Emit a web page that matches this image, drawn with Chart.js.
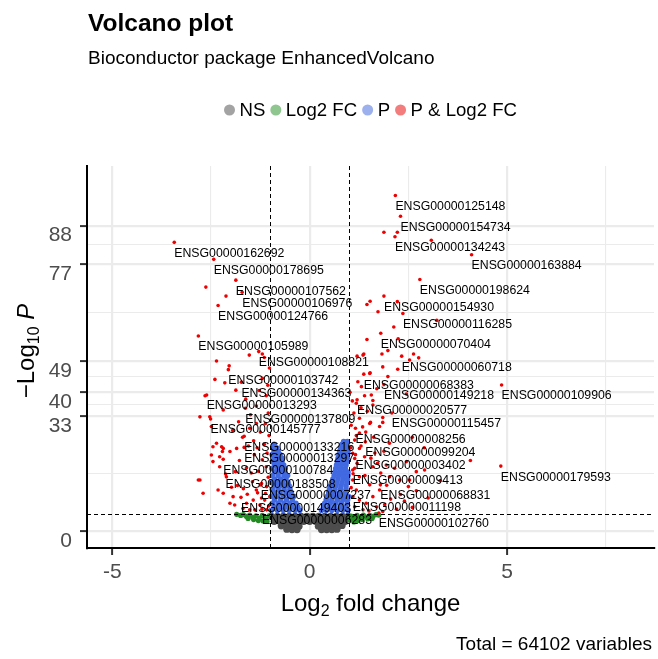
<!DOCTYPE html>
<html>
<head>
<meta charset="utf-8">
<script src="https://cdn.jsdelivr.net/npm/chart.js@4.4.0/dist/chart.umd.min.js"></script>
<style>
  html, body { margin: 0; padding: 0; background: #fff; }
  #wrap { width: 658px; height: 659px; }
</style>
</head>
<body>
<div id="wrap"><canvas id="volcano" width="658" height="659"></canvas></div>
<script>
// axis ticks
const xTicks = [-5, 0, 5];
const xMinor = [-2.5, 2.5, 7.5];
const yTicks = [0, 33, 40, 49, 77, 88];
const yMinor = [16.5, 36.5, 44.5, 63, 82.5];

// cutoffs (log2 FC, -log10 P)
const fcCutoff = 1;
const pCutoff = 5;

// labelled genes (all in "P & Log2 FC")
const geneNames = [
  "ENSG00000162692", "ENSG00000178695", "ENSG00000107562", "ENSG00000106976", "ENSG00000124766",
  "ENSG00000105989", "ENSG00000108821", "ENSG00000103742", "ENSG00000134363", "ENSG00000013293",
  "ENSG00000137809", "ENSG00000145777", "ENSG00000133216", "ENSG00000013297", "ENSG00000100784",
  "ENSG00000183508", "ENSG00000007237", "ENSG00000149403", "ENSG00000006283",
  "ENSG00000125148", "ENSG00000154734", "ENSG00000134243", "ENSG00000163884", "ENSG00000198624",
  "ENSG00000154930", "ENSG00000116285", "ENSG00000070404", "ENSG00000060718", "ENSG00000068383",
  "ENSG00000149218", "ENSG00000109906", "ENSG00000020577", "ENSG00000115457", "ENSG00000008256",
  "ENSG00000099204", "ENSG00000003402", "ENSG00000179593", "ENSG00000009413", "ENSG00000068831",
  "ENSG00000011198", "ENSG00000102760"
];
const geneLog2FC = [
  -3.43, -2.43, -1.87, -1.71, -2.32, -2.82, -1.29, -2.06, -1.73, -2.61,
  -1.63, -2.51, -1.66, -1.66, -2.19, -2.13, -1.24, -1.74, -1.21,
  2.17, 2.30, 2.16, 4.10, 2.79, 1.88, 2.36, 1.80, 2.33, 1.37,
  1.88, 4.86, 1.20, 2.08, 1.16, 1.41, 1.16, 4.84, 1.09, 1.79,
  1.09, 1.75
];
const geneLogP = [
  83.2, 78.3, 72.3, 68.8, 65.0, 56.2, 51.7, 46.5, 42.9, 39.2,
  35.4, 32.3, 27.3, 24.1, 20.7, 16.4, 13.3, 9.7, 6.3,
  96.7, 90.7, 84.8, 79.6, 72.5, 67.7, 62.7, 57.0, 50.4, 45.2,
  42.2, 42.1, 37.8, 34.0, 29.6, 25.7, 22.0, 18.7, 17.6, 13.3,
  9.8, 5.2
];

// other significant points: [log2FC, -log10 P]
const bothPoints = [
  [-2.63, 70.3], [-2.12, 67.7], [1.45, 65.3], [1.53, 66.2], [1.73, 63.2], [1.45, 55.2],
  [-1.53, 50.7], [-1.20, 51.0], [1.20, 50.4], [1.37, 51.0], [1.88, 86.1], [2.22, 86.1],
  [3.08, 83.8], [2.22, 66.1], [2.13, 58.8], [3.22, 60.7], [2.24, 55.4], [1.98, 52.0],
  [1.83, 51.0], [2.63, 51.0], [2.76, 49.9], [2.53, 49.3], [1.85, 47.3], [2.23, 46.6],
  [1.53, 45.6], [-2.36, 49.0], [-2.04, 47.6], [-2.40, 43.7], [-2.15, 42.7], [-1.87, 40.6],
  [-2.78, 32.9], [-2.19, 34.9], [-2.45, 24.3], [-2.19, 23.8], [-2.28, 21.4], [-2.78, 14.7],
  [-2.70, 10.9], [1.35, 50.7], [1.52, 45.4], [1.31, 41.6], [1.18, 36.8], [1.26, 32.5],
  [4.07, 20.3], [1.39, 39.0], [1.60, 37.6], [1.85, 32.7], [1.85, 31.3], [1.54, 31.3],
  [-2.65, 39.0], [-2.53, 32.9], [-2.49, 30.1], [-1.35, 31.0], [-1.52, 29.6], [-2.36, 25.3],
  [-2.23, 24.3], [-2.21, 22.9], [-2.49, 21.9], [-2.02, 22.9], [-1.85, 23.8], [-2.45, 20.0],
  [-2.28, 18.5], [-2.82, 14.7], [-2.11, 15.6], [-2.32, 11.8], [-2.19, 10.9], [-1.94, 9.9],
  [-2.02, 8.0], [-1.90, 7.5], [-1.60, 8.0], [-1.43, 8.9], [-1.26, 7.5], [-1.39, 6.1],
  [-1.09, 6.1], [-1.35, 11.8], [-1.22, 13.7], [-1.09, 12.8], [-1.01, 9.9], [-1.14, 8.9],
  [-1.52, 6.1], [-1.69, 6.5],
  [1.56, 39.2], [1.60, 36.3], [1.52, 31.0], [1.77, 30.1], [1.26, 28.2], [1.14, 26.2],
  [2.02, 25.3], [1.26, 23.8], [1.09, 22.4], [1.39, 21.4], [1.60, 18.5], [1.94, 19.0],
  [2.15, 18.1], [2.45, 20.0], [2.70, 17.1], [2.91, 17.6], [2.02, 15.6], [2.28, 14.7],
  [2.53, 14.7], [1.26, 15.6], [1.52, 13.3], [1.18, 11.8], [1.77, 11.8], [1.60, 9.9],
  [1.26, 8.9], [1.43, 8.0], [1.14, 7.0], [1.69, 7.0], [1.35, 6.1], [1.09, 9.9],
  [1.09, 14.7], [1.14, 18.1], [1.14, 20.9],
  [-1.05, 15.5], [-1.10, 18.5], [-1.20, 20.5], [-1.08, 22.5], [-1.30, 17.2], [-1.15, 25.0],
  [-1.03, 27.5], [-1.32, 11.0], [-1.22, 9.5], [-1.04, 7.2], [-1.12, 10.8], [-1.45, 14.2],
  [-1.58, 10.6], [-1.68, 12.2], [-1.83, 13.1], [-1.98, 12.6], [-1.48, 16.7], [-1.60, 18.2],
  [-1.88, 17.1], [-1.78, 20.3], [-1.40, 22.0], [-1.25, 28.5], [-1.12, 31.0], [-1.05, 34.0],
  [-1.35, 36.0], [-1.10, 39.0], [-1.20, 44.0], [-1.02, 47.0], [-1.42, 26.0], [-1.55, 24.5],
  [-1.70, 27.0], [-1.95, 29.0], [-1.80, 31.5],
  [1.05, 12.5], [1.10, 16.5], [1.20, 19.5], [1.30, 24.5], [1.05, 30.5], [1.12, 34.0],
  [1.02, 40.0], [1.22, 43.0], [1.42, 28.5], [1.65, 22.5], [1.80, 16.7], [1.95, 13.2],
  [2.30, 10.5], [2.50, 12.8], [2.70, 11.6], [2.40, 8.6], [2.05, 9.2], [1.90, 7.6],
  [1.50, 5.8], [1.85, 5.6], [2.20, 6.3], [2.60, 6.8], [3.00, 9.5], [1.30, 35.5],
  [1.70, 41.0], [1.98, 44.5], [2.45, 39.5], [2.60, 27.0], [2.90, 24.0], [3.30, 14.5],
  [1.04, 24.0], [1.18, 27.5], [1.34, 30.0], [1.46, 34.5], [1.08, 37.5], [1.62, 27.0],
  [1.72, 19.5], [1.40, 16.0], [1.55, 21.0], [1.88, 23.0], [-1.06, 42.0], [-1.28, 40.5],
  [-1.50, 33.5], [-1.15, 50.0], [-1.62, 38.0], [-1.33, 24.0]
];

// P only (|log2FC| < 1)
const pPoints = [
  [-0.97, 6], [-0.82, 6], [-0.67, 6], [-0.52, 6], [-0.37, 6], [-0.25, 6],
  [-0.90, 7], [-0.75, 7], [-0.60, 7], [-0.45, 7], [-0.30, 7],
  [-0.95, 8], [-0.80, 8], [-0.65, 8], [-0.50, 8], [-0.35, 8],
  [-0.89, 9], [-0.74, 9], [-0.59, 9], [-0.44, 9],
  [-0.97, 10], [-0.82, 10], [-0.67, 10], [-0.52, 10], [-0.40, 10],
  [-0.90, 11], [-0.75, 11], [-0.60, 11], [-0.47, 11],
  [-0.95, 12], [-0.80, 12], [-0.65, 12], [-0.50, 12],
  [-0.90, 13], [-0.76, 13], [-0.62, 13], [-0.52, 13],
  [-0.97, 14], [-0.83, 14], [-0.69, 14], [-0.55, 14],
  [-0.89, 15], [-0.74, 15], [-0.60, 15],
  [-0.95, 16], [-0.80, 16], [-0.65, 16], [-0.56, 16],
  [-0.89, 17], [-0.75, 17], [-0.63, 17],
  [-0.96, 18], [-0.82, 18], [-0.68, 18], [-0.62, 18],
  [-0.89, 19], [-0.76, 19], [-0.66, 19],
  [-0.95, 20], [-0.82, 20], [-0.70, 20],
  [-0.89, 21], [-0.78, 21], [-0.70, 21],
  [-0.95, 22], [-0.84, 22], [-0.75, 22],
  [-0.90, 23], [-0.80, 23],
  [-0.93, 24], [-0.84, 24], [-0.90, 25],
  [0.30, 6], [0.42, 6], [0.56, 6], [0.70, 6], [0.84, 6], [0.97, 6],
  [0.35, 7], [0.49, 7], [0.63, 7], [0.77, 7], [0.91, 7],
  [0.38, 8], [0.52, 8], [0.66, 8], [0.80, 8], [0.95, 8],
  [0.42, 9], [0.56, 9], [0.70, 9], [0.84, 9], [0.96, 9],
  [0.45, 10], [0.59, 10], [0.73, 10], [0.87, 10], [0.98, 10],
  [0.48, 11], [0.62, 11], [0.76, 11], [0.90, 11],
  [0.50, 12], [0.64, 12], [0.78, 12], [0.92, 12],
  [0.53, 13], [0.66, 13], [0.79, 13], [0.92, 13],
  [0.56, 14], [0.69, 14], [0.82, 14], [0.95, 14],
  [0.59, 15], [0.72, 15], [0.85, 15], [0.96, 15],
  [0.62, 16], [0.74, 16], [0.86, 16], [0.97, 16],
  [0.64, 17], [0.76, 17], [0.88, 17], [0.97, 17],
  [0.66, 18], [0.78, 18], [0.90, 18],
  [0.68, 19], [0.80, 19], [0.92, 19],
  [0.70, 20], [0.82, 20], [0.94, 20],
  [0.72, 21], [0.84, 21], [0.95, 21],
  [0.74, 22], [0.85, 22], [0.96, 22],
  [0.76, 23], [0.87, 23], [0.97, 23],
  [0.78, 24], [0.88, 24], [0.97, 24],
  [0.82, 25], [0.92, 25], [0.86, 25.8], [0.95, 25.8]
];

// Log2 FC only (-log10 P < 5)
const fcPoints = [
  [-1.03, 4.4], [-1.12, 3.6], [-1.20, 4.5], [-1.28, 3.7], [-1.36, 4.4], [-1.44, 3.9],
  [-1.52, 4.6], [-1.60, 4.2], [-1.68, 4.7], [-1.08, 2.8], [-1.18, 2.9], [-1.30, 3.0],
  [-1.42, 3.3], [-1.56, 3.6], [-1.75, 4.5], [-1.85, 4.8],
  [1.03, 3.2], [1.05, 4.3], [1.13, 3.7], [1.20, 4.5], [1.28, 3.9], [1.36, 4.6],
  [1.44, 4.0], [1.52, 4.5], [1.60, 4.2], [1.68, 4.7], [1.12, 2.6], [1.22, 3.0],
  [1.33, 3.3], [1.47, 3.5], [1.58, 3.6], [1.75, 4.6]
];

// not significant
const nsPoints = [
  [-0.97, 4.2], [-0.82, 4.2], [-0.67, 4.2], [-0.52, 4.2], [-0.37, 4.2], [-0.22, 4.2], [-0.07, 4.2],
  [0.08, 4.2], [0.23, 4.2], [0.38, 4.2], [0.53, 4.2], [0.68, 4.2], [0.83, 4.2], [0.97, 4.2],
  [-0.90, 2.8], [-0.75, 2.8], [-0.60, 2.8], [-0.45, 2.8], [-0.30, 2.8], [-0.15, 2.8], [0.00, 2.8],
  [0.15, 2.8], [0.30, 2.8], [0.45, 2.8], [0.60, 2.8], [0.75, 2.8], [0.90, 2.8],
  [-0.72, 1.5], [-0.57, 1.4], [-0.42, 1.4], [-0.27, 1.4],
  [0.22, 1.4], [0.37, 1.4], [0.52, 1.4], [0.67, 1.4], [0.82, 1.6],
  [-0.58, 0.5], [-0.45, 0.4], [-0.32, 0.4], [0.30, 0.4], [0.43, 0.4], [0.56, 0.4], [0.69, 0.5]
];

const legendItems = ["NS", "Log2 FC", "P", "P & Log2 FC"];
const legendColors = ["#a3a3a3", "#8fc58f", "#9db0ee", "#f37d7d"];

const FONT = "'Liberation Sans', Arial, sans-serif";
const toXY = (arr) => arr.map((p) => ({ x: p[0], y: p[1] }));
const geneData = geneNames.map((g, i) => ({ x: geneLog2FC[i], y: geneLogP[i], label: g }));
const xGrid = xTicks.concat(xMinor).sort((a, b) => a - b);
const yGrid = yTicks.concat(yMinor).sort((a, b) => a - b);

// white background + cutoff lines + gene labels + all the outside text
const volcanoDecor = {
  id: "volcanoDecor",
  beforeDraw(chart) {
    const ctx = chart.ctx;
    ctx.save();
    ctx.fillStyle = "#fff";
    ctx.fillRect(0, 0, chart.width, chart.height);
    ctx.restore();
  },
  afterDatasetsDraw(chart) {
    const { ctx, chartArea, scales } = chart;
    const xs = scales.x, ys = scales.y;
    ctx.save();
    ctx.strokeStyle = "#000";
    ctx.lineWidth = 1;
    ctx.setLineDash([4, 3]);
    [-fcCutoff, fcCutoff].forEach((v) => {
      const px = Math.round(xs.getPixelForValue(v)) + 0.5;
      ctx.beginPath();
      ctx.moveTo(px, chartArea.top);
      ctx.lineTo(px, chartArea.bottom);
      ctx.stroke();
    });
    const py = Math.round(ys.getPixelForValue(pCutoff)) + 0.5;
    ctx.beginPath();
    ctx.moveTo(chartArea.left, py);
    ctx.lineTo(chartArea.right, py);
    ctx.stroke();
    ctx.setLineDash([]);

    // gene labels: left aligned at the point, just below it
    ctx.fillStyle = "#000";
    ctx.font = "12.3px " + FONT;
    ctx.textAlign = "left";
    ctx.textBaseline = "middle";
    geneData.forEach((g) => {
      ctx.fillText(g.label, xs.getPixelForValue(g.x), ys.getPixelForValue(g.y) + 11);
    });
    ctx.restore();
  },
  afterDraw(chart) {
    const { ctx, chartArea } = chart;
    ctx.save();
    ctx.fillStyle = "#000";
    ctx.textAlign = "left";
    ctx.textBaseline = "alphabetic";
    ctx.font = "bold 24.5px " + FONT;
    ctx.fillText("Volcano plot", 88, 31);
    ctx.font = "19px " + FONT;
    ctx.fillText("Bioconductor package EnhancedVolcano", 88, 64);

    // legend
    ctx.font = "18.6px " + FONT;
    const widths = legendItems.map((t) => ctx.measureText(t).width);
    const total = widths.reduce((a, w) => a + 10 + w + 10.5, 0) - 10.5 + 5.5;
    let cx = (chartArea.left + chartArea.right) / 2 - total / 2 + 5.5;
    const ly = 110;
    ctx.textBaseline = "middle";
    legendItems.forEach((t, i) => {
      ctx.beginPath();
      ctx.arc(cx, ly, 5.5, 0, Math.PI * 2);
      ctx.fillStyle = legendColors[i];
      ctx.fill();
      ctx.fillStyle = "#000";
      ctx.fillText(t, cx + 10, ly + 1);
      cx += 10 + widths[i] + 10.5;
    });

    // x title with subscript
    ctx.textBaseline = "alphabetic";
    const big = "24px " + FONT, small = "16px " + FONT;
    ctx.font = big;
    const wLog = ctx.measureText("Log").width;
    const wRest = ctx.measureText(" fold change").width;
    ctx.font = small;
    const w2 = ctx.measureText("2").width;
    let tx = (chartArea.left + chartArea.right) / 2 - (wLog + w2 + wRest) / 2;
    const tb = 611;
    ctx.font = big;
    ctx.fillText("Log", tx, tb);
    ctx.font = small;
    ctx.fillText("2", tx + wLog, tb + 5);
    ctx.font = big;
    ctx.fillText(" fold change", tx + wLog + w2, tb);

    // y title, rotated
    ctx.save();
    ctx.translate(34, (chartArea.top + chartArea.bottom) / 2 - 6);
    ctx.rotate(-Math.PI / 2);
    ctx.font = big;
    const wm = ctx.measureText("\u2212Log").width;
    ctx.font = small;
    const w10 = ctx.measureText("10").width;
    ctx.font = "italic 24px " + FONT;
    const wp = ctx.measureText(" P").width;
    let yx = -(wm + w10 + wp) / 2;
    ctx.font = big;
    ctx.fillText("\u2212Log", yx, 0);
    ctx.font = small;
    ctx.fillText("10", yx + wm, 5);
    ctx.font = "italic 24px " + FONT;
    ctx.fillText(" P", yx + wm + w10, 0);
    ctx.restore();

    // caption
    ctx.font = "19px " + FONT;
    ctx.textAlign = "right";
    ctx.fillText("Total = 64102 variables", 652, 650);
    ctx.restore();
  }
};

const majorX = (v) => xTicks.includes(v);
const majorY = (v) => yTicks.includes(v);

new Chart(document.getElementById("volcano"), {
  type: "scatter",
  data: {
    datasets: [
      { label: "genes", data: geneData, backgroundColor: "#ee0000", pointRadius: 1.8, borderWidth: 0 },
      { label: "P & Log2 FC", data: toXY(bothPoints), backgroundColor: "#ee0000", pointRadius: 1.8, borderWidth: 0 },
      { label: "P", data: toXY(pPoints), backgroundColor: "#4169e1", pointRadius: 2.8, borderWidth: 0 },
      { label: "Log2 FC", data: toXY(fcPoints), backgroundColor: "#228b22", pointRadius: 2.6, borderWidth: 0 },
      { label: "NS", data: toXY(nsPoints), backgroundColor: "#4d4d4d", pointRadius: 3.6, borderWidth: 0 }
    ]
  },
  options: {
    responsive: false,
    animation: false,
    devicePixelRatio: 1,
    layout: { padding: { top: 166, right: 3, left: 0, bottom: 0 } },
    plugins: {
      legend: { display: false },
      title: { display: false },
      tooltip: { enabled: false }
    },
    scales: {
      x: {
        type: "linear",
        min: -5.64,
        max: 8.72,
        afterBuildTicks: (s) => { s.ticks = xGrid.map((v) => ({ value: v })); },
        afterFit: (s) => { s.height = 111; },
        ticks: {
          autoSkip: false,
          maxRotation: 0,
          padding: 5,
          color: "#4d4d4d",
          font: { size: 21, family: FONT },
          callback: (v) => (majorX(v) ? String(v) : "")
        },
        grid: {
          color: "#ebebeb",
          lineWidth: (c) => (c.tick && majorX(c.tick.value) ? 2.2 : 1.1),
          tickColor: (c) => (c.tick && majorX(c.tick.value) ? "#333" : "rgba(0,0,0,0)"),
          tickLength: 7,
          tickWidth: 2
        },
        border: { display: true, color: "#000", width: 2 }
      },
      y: {
        type: "linear",
        min: -4.9,
        max: 105.2,
        afterBuildTicks: (s) => { s.ticks = yGrid.map((v) => ({ value: v })); },
        afterFit: (s) => { s.width = 87; },
        ticks: {
          autoSkip: false,
          padding: 8,
          labelOffset: 10,
          color: "#4d4d4d",
          font: { size: 21, family: FONT },
          callback: (v) => (majorY(v) ? String(v) : "")
        },
        grid: {
          color: "#ebebeb",
          lineWidth: (c) => (c.tick && majorY(c.tick.value) ? 2.2 : 1.1),
          tickColor: (c) => (c.tick && majorY(c.tick.value) ? "#333" : "rgba(0,0,0,0)"),
          tickLength: 7,
          tickWidth: 2
        },
        border: { display: true, color: "#000", width: 2 }
      }
    }
  },
  plugins: [volcanoDecor]
});
</script>
</body>
</html>
